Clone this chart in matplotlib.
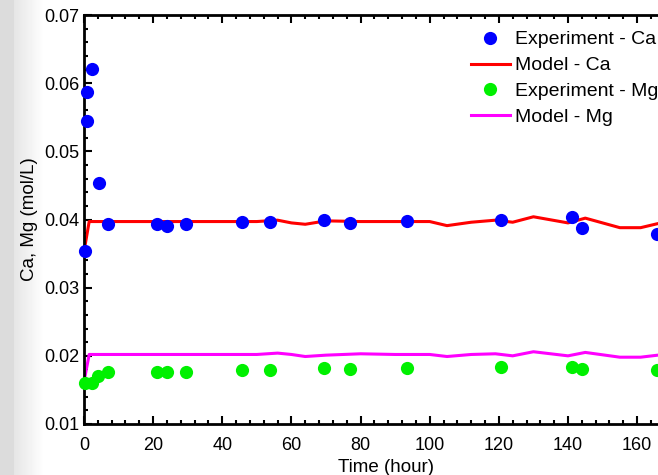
import numpy as np
import matplotlib.pyplot as plt
from matplotlib.ticker import MultipleLocator

plt.rcParams['font.family'] = ['Liberation Sans', 'DejaVu Sans']

# experiment sample times (hour)
t_ca = [0.25, 0.9, 1.0, 2.2, 4.2, 7, 21, 24, 29.5, 45.8, 53.8, 69.5, 77, 93.4, 120.6, 141.3, 144, 165.7]
exp_ca = [0.0354, 0.0545, 0.0587, 0.0621, 0.0454, 0.0394, 0.0394, 0.0391, 0.0393, 0.0396, 0.0397,
          0.0400, 0.0395, 0.0398, 0.0400, 0.0404, 0.0388, 0.0378]

t_mg = [0.25, 2.2, 4.1, 7, 21, 24, 29.4, 45.8, 53.8, 69.5, 77, 93.4, 120.6, 141.3, 144, 165.7]
exp_mg = [0.0160, 0.0160, 0.0170, 0.0177, 0.0177, 0.0176, 0.0177, 0.0179, 0.0179, 0.0182,
          0.0181, 0.0182, 0.0183, 0.0184, 0.0181, 0.0179]

# model curves
t_model = [0, 1.5, 10, 20, 30, 40, 50, 56, 60, 64, 70, 80, 90, 100, 105, 112, 119, 124, 130,
           140, 145, 155, 161, 166, 170]
model_ca = [0.0353, 0.0397, 0.0397, 0.0397, 0.0397, 0.0397, 0.0397, 0.0399, 0.0395, 0.0393,
            0.0398, 0.0397, 0.0397, 0.0397, 0.0391, 0.0396, 0.0399, 0.0396, 0.0404, 0.0395,
            0.0402, 0.0388, 0.0388, 0.0394, 0.0394]
model_mg = [0.0162, 0.0202, 0.0202, 0.0202, 0.0202, 0.0202, 0.0202, 0.0204, 0.0202, 0.0199,
            0.0201, 0.0203, 0.0202, 0.0202, 0.0199, 0.0202, 0.0203, 0.0200, 0.0206, 0.0200,
            0.0205, 0.0198, 0.0198, 0.0201, 0.0201]

fig = plt.figure(figsize=(6.58, 4.75), dpi=100)

# grey slide background on the left edge
bg = fig.add_axes([0, 0, 1, 1], zorder=-1)
grad = np.ones((10, 658))
grad[:, :14] = 0.86
grad[:, 14:45] = np.linspace(0.9, 1.0, 31)
bg.imshow(grad, cmap='gray', vmin=0, vmax=1, aspect='auto', extent=[0, 658, 0, 475])
bg.set_axis_off()

# axes runs past the right edge of the picture (cropped screenshot)
ax = fig.add_axes([84 / 658, 51 / 475, 605 / 658, 409 / 475])

ax.plot(t_model, model_ca, color='#ff0000', lw=2.2, label='Model - Ca', zorder=2)
ax.plot(t_model, model_mg, color='#ff00ff', lw=2.2, label='Model - Mg', zorder=2)
ax.plot(t_ca, exp_ca, 'o', color='#0000ff', ms=9.5, mec='none', label='Experiment - Ca', zorder=3, clip_on=False)
ax.plot(t_mg, exp_mg, 'o', color='#00f000', ms=9.5, mec='none', label='Experiment - Mg', zorder=3, clip_on=False)

ax.set_xlim(0, 175)
ax.set_ylim(0.01, 0.07)
ax.xaxis.set_major_locator(MultipleLocator(20))
ax.xaxis.set_minor_locator(MultipleLocator(4))
ax.yaxis.set_major_locator(MultipleLocator(0.01))
ax.yaxis.set_minor_locator(MultipleLocator(0.002))
ax.tick_params(which='both', direction='in', top=True, right=False, width=1.5, labelsize=13)
ax.tick_params(which='major', length=6)
ax.tick_params(which='minor', length=3)
ax.tick_params(axis='x', pad=9)
for s in ax.spines.values():
    s.set_linewidth(2)

ax.set_xlabel('Time (hour)', fontsize=13.5, labelpad=4)
ax.set_ylabel('Ca, Mg (mol/L)', fontsize=13.5, labelpad=4)

h, l = ax.get_legend_handles_labels()
order = [2, 0, 3, 1]
ax.legend([h[i] for i in order], [l[i] for i in order], loc='upper left',
          bbox_to_anchor=(461 / 658, 1 - 21 / 475), bbox_transform=fig.transFigure,
          frameon=False, fontsize=14, handlelength=2.0, handletextpad=0.3,
          labelspacing=0.43, borderpad=0)

fig.savefig('out.png', dpi=100)
